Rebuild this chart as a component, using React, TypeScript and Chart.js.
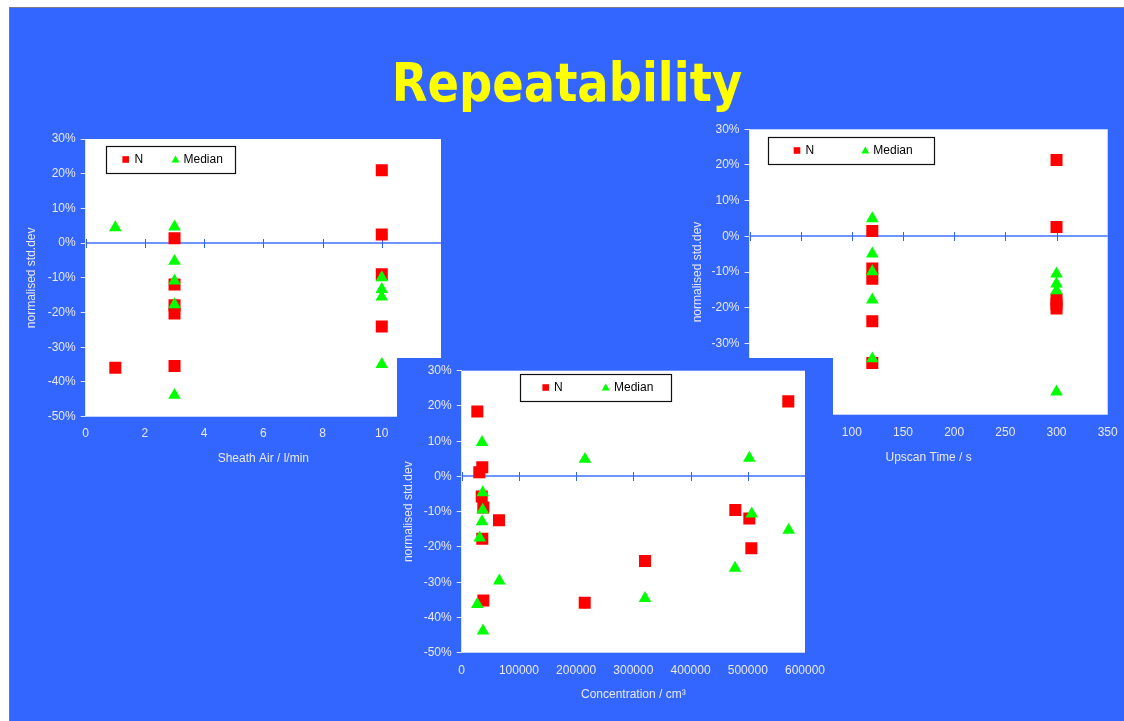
import React, { useEffect, useRef } from 'react';
import { Chart, registerables } from 'chart.js';

Chart.register(...registerables);

// ---------- data ----------
// Sheath Air / l/min chart
const sheathN_x = [1, 3, 3, 3, 3, 3, 10, 10, 10, 10];
const sheathN_y = [-35.9, 1.4, -11.9, -17.9, -20.3, -35.4, 21.0, 2.5, -9.0, -24.0];
const sheathMedian_x = [1, 3, 3, 3, 3, 3, 10, 10, 10, 10];
const sheathMedian_y = [4.5, 4.7, -5.2, -10.9, -17.7, -43.8, -9.9, -13.3, -15.5, -34.9];

// Upscan Time / s chart
const upscanN_x = [120, 120, 120, 120, 120, 300, 300, 300, 300, 300];
const upscanN_y = [1.5, -9.0, -11.9, -23.8, -35.5, 21.4, 2.6, -17.7, -19.0, -20.2];
const upscanMedian_x = [120, 120, 120, 120, 120, 300, 300, 300, 300];
const upscanMedian_y = [5.0, -4.9, -9.9, -17.8, -34.3, -10.5, -13.3, -15.2, -43.6];

// Concentration / cm3 chart
const concN_x = [27300, 30800, 36000, 35000, 37800, 36000, 65200, 37800, 215000, 320400, 478200, 502700, 506200, 570800];
const concN_y = [18.4, 1.2, 2.6, -5.7, -8.8, -17.7, -12.4, -35.2, -35.8, -24.0, -9.5, -11.9, -20.4, 21.3];
const concMedian_x = [35500, 215500, 502700, 36700, 36700, 35500, 31500, 65700, 27300, 37200, 320400, 477700, 506900, 571500];
const concMedian_y = [9.7, 4.9, 5.2, -4.6, -9.5, -12.8, -17.4, -29.6, -36.3, -43.8, -34.6, -26.0, -10.6, -15.2];

// axes
const yMin = -50;
const yMax = 30;
const yStep = 10;
const sheathXMax = 12;
const sheathXStep = 2;
const upscanXMax = 350;
const upscanXStep = 50;
const concXMax = 600000;
const concXStep = 100000;

const titleText = 'Repeatability';
const yAxisTitle = 'normalised std.dev';
const seriesNames = ['N', 'Median'];

// ---------- styles ----------
const BLUE = '#3366FF';
const RED = '#FF0000';
const GREEN = '#00FF00';
const LABEL = '#E8E8F0';
const FONT = '"Liberation Sans", Arial, sans-serif';

const zip = (xs: number[], ys: number[]) => xs.map((x, i) => ({ x, y: ys[i] }));

const plotBgPlugin = {
  id: 'plotBg',
  beforeDraw(chart: any) {
    const { ctx, chartArea } = chart;
    ctx.save();
    ctx.fillStyle = '#FFFFFF';
    ctx.fillRect(chartArea.left, chartArea.top, chartArea.right - chartArea.left, chartArea.bottom - chartArea.top);
    ctx.restore();
  },
};

const zeroLinePlugin = {
  id: 'zeroLine',
  beforeDatasetsDraw(chart: any) {
    const { ctx, chartArea } = chart;
    const x = chart.scales.x;
    const y = chart.scales.y;
    const py = Math.round(y.getPixelForValue(0));
    ctx.save();
    ctx.strokeStyle = '#7094FF';
    ctx.lineWidth = 2;
    ctx.beginPath();
    ctx.moveTo(chartArea.left, py);
    ctx.lineTo(chartArea.right, py);
    ctx.stroke();
    ctx.strokeStyle = '#3562F0';
    ctx.lineWidth = 1;
    x.ticks.forEach((t: any) => {
      const px = Math.round(x.getPixelForValue(t.value)) + 0.5;
      ctx.beginPath();
      ctx.moveTo(px, py - 4);
      ctx.lineTo(px, py + 5);
      ctx.stroke();
    });
    ctx.restore();
  },
};

const inlineLegendPlugin = {
  id: 'inlineLegend',
  afterDraw(chart: any, _args: any, opts: any) {
    const { ctx, chartArea } = chart;
    const bx = Math.round(chartArea.left + opts.dx);
    const by = Math.round(chartArea.top + opts.dy);
    ctx.save();
    ctx.fillStyle = '#FFFFFF';
    ctx.fillRect(bx, by, opts.w, opts.h);
    ctx.strokeStyle = '#111111';
    ctx.lineWidth = 1.2;
    ctx.strokeRect(bx + 0.5, by + 0.5, opts.w, opts.h);
    const cy = by + opts.h / 2;
    ctx.fillStyle = RED;
    ctx.fillRect(bx + opts.m1 - 3.3, cy - 3.3, 6.6, 6.6);
    ctx.fillStyle = GREEN;
    ctx.beginPath();
    ctx.moveTo(bx + opts.m2, cy - 4);
    ctx.lineTo(bx + opts.m2 + 4, cy + 3);
    ctx.lineTo(bx + opts.m2 - 4, cy + 3);
    ctx.closePath();
    ctx.fill();
    ctx.fillStyle = '#000000';
    ctx.font = '12px ' + FONT;
    ctx.textBaseline = 'middle';
    ctx.textAlign = 'left';
    ctx.fillText(opts.labels[0], bx + opts.t1, cy);
    ctx.fillText(opts.labels[1], bx + opts.t2, cy);
    ctx.restore();
  },
};

type PanelProps = {
  left: number; top: number; width: number; height: number;
  plot: { l: number; t: number; r: number; b: number };
  xMax: number; xStep: number; xTitle: string;
  yTitleX: number; xTitleY: number; xTickPad: number;
  legend: any;
  nx: number[]; ny: number[]; mx: number[]; my: number[];
  bg?: { w: number; h: number };
};

function ScatterPanel(p: PanelProps) {
  const ref = useRef<HTMLCanvasElement>(null);
  useEffect(() => {
    if (!ref.current) return;
    const yScaleWidth = p.plot.l - p.left;
    const xScaleHeight = p.top + p.height - p.plot.b;
    const chart = new Chart(ref.current, {
      type: 'scatter',
      data: {
        datasets: [
          {
            label: seriesNames[0],
            data: zip(p.nx, p.ny),
            pointStyle: 'rect',
            pointRadius: 8.5,
            pointBackgroundColor: RED,
            pointBorderWidth: 0,
            order: 2,
          },
          {
            label: seriesNames[1],
            data: zip(p.mx, p.my),
            pointStyle: 'triangle',
            pointRadius: 7.3,
            pointBackgroundColor: GREEN,
            pointBorderWidth: 0,
            order: 1,
          },
        ],
      },
      options: {
        responsive: false,
        animation: false,
        events: [],
        layout: {
          autoPadding: false,
          padding: { left: 0, bottom: 0, top: p.plot.t - p.top, right: p.left + p.width - p.plot.r },
        },
        plugins: {
          legend: { display: false },
          tooltip: { enabled: false },
          inlineLegend: p.legend,
        } as any,
        scales: {
          x: {
            type: 'linear',
            position: 'bottom',
            min: 0,
            max: p.xMax,
            grid: { display: false, drawTicks: false },
            border: { display: false },
            ticks: {
              stepSize: p.xStep,
              padding: p.xTickPad,
              color: LABEL,
              font: { family: FONT, size: 12 },
              maxRotation: 0,
              autoSkip: false,
              callback: (v: any) => String(v),
            },
            title: {
              display: true,
              text: p.xTitle,
              color: LABEL,
              font: { family: FONT, size: 12 },
              padding: { top: 0, bottom: p.top + p.height - p.xTitleY - 7.2 },
            },
            afterFit: (s: any) => { s.height = xScaleHeight; },
          },
          y: {
            type: 'linear',
            min: yMin,
            max: yMax,
            grid: { display: true, drawOnChartArea: false, drawTicks: true, tickLength: 5, tickColor: '#E4E4EC' },
            border: { display: true, color: '#E4E4EC', width: 1 },
            ticks: {
              stepSize: yStep,
              padding: 5,
              color: LABEL,
              font: { family: FONT, size: 12 },
              callback: (v: any) => v + '%',
            },
            title: {
              display: true,
              text: yAxisTitle,
              color: LABEL,
              font: { family: FONT, size: 12 },
              padding: { top: p.yTitleX - 7.2 - p.left, bottom: 0 },
            },
            afterFit: (s: any) => { s.width = yScaleWidth; },
          },
        },
      } as any,
      plugins: [plotBgPlugin, zeroLinePlugin, inlineLegendPlugin],
    });
    return () => chart.destroy();
  }, []);
  return (
    <div style={{ position: 'absolute', left: p.left, top: p.top, width: p.width, height: p.height }}>
      {p.bg && (
        <div style={{ position: 'absolute', left: 0, top: 0, width: p.bg.w, height: p.bg.h, background: BLUE }} />
      )}
      <canvas
        ref={ref}
        width={p.width}
        height={p.height}
        style={{ position: 'absolute', left: 0, top: 0, display: 'block' }}
      />
    </div>
  );
}

export default function App() {
  return (
    <div style={{ position: 'fixed', left: 0, top: 0, width: 1124, height: 721, background: '#FFFFFF', overflow: 'hidden' }}>
      <div
        style={{
          position: 'absolute',
          left: 9,
          top: 7,
          width: 1115,
          height: 714,
          background: BLUE,
          borderLeft: '1px solid #7A7A8A',
          borderTop: '1px solid #7A7A8A',
          boxSizing: 'border-box',
        }}
      />
      <div
        style={{
          position: 'absolute',
          left: 0,
          top: 56,
          width: 1134,
          textAlign: 'center',
          color: '#FFFF00',
          fontFamily: '"DejaVu Sans", sans-serif',
          fontWeight: 'bold',
          fontSize: 54,
          lineHeight: 1,
          transform: 'scaleX(0.86)',
          transformOrigin: '567px 0',
          whiteSpace: 'nowrap',
        }}
      >
        {titleText}
      </div>
      <ScatterPanel
        left={12} top={120} width={450} height={360}
        plot={{ l: 85.7, t: 139, r: 441, b: 416.7 }}
        xMax={sheathXMax} xStep={sheathXStep} xTitle="Sheath Air / l/min"
        yTitleX={31.7} xTitleY={459} xTickPad={10}
        legend={{ dx: 20.3, dy: 6.7, w: 129, h: 27, m1: 19.7, t1: 28.5, m2: 69.5, t2: 77.5, labels: seriesNames }}
        nx={sheathN_x} ny={sheathN_y} mx={sheathMedian_x} my={sheathMedian_y}
      />
      <ScatterPanel
        left={676} top={112} width={460} height={365}
        plot={{ l: 749.5, t: 129.3, r: 1107.7, b: 414.7 }}
        xMax={upscanXMax} xStep={upscanXStep} xTitle="Upscan Time / s"
        yTitleX={697.3} xTitleY={457.7} xTickPad={10.8}
        legend={{ dx: 18.2, dy: 7.4, w: 166, h: 27, m1: 29, t1: 37.5, m2: 97.3, t2: 105.3, labels: seriesNames }}
        nx={upscanN_x} ny={upscanN_y} mx={upscanMedian_x} my={upscanMedian_y}
      />
      <ScatterPanel
        left={397} top={358} width={450} height={363}
        plot={{ l: 461.7, t: 370.7, r: 805, b: 652.7 }}
        xMax={concXMax} xStep={concXStep} xTitle="Concentration / cm³"
        yTitleX={408.3} xTitleY={695} xTickPad={11.1}
        legend={{ dx: 58.3, dy: 3, w: 151, h: 27, m1: 25.7, t1: 34, m2: 85.7, t2: 94, labels: seriesNames }}
        nx={concN_x} ny={concN_y} mx={concMedian_x} my={concMedian_y}
        bg={{ w: 436, h: 363 }}
      />
    </div>
  );
}
